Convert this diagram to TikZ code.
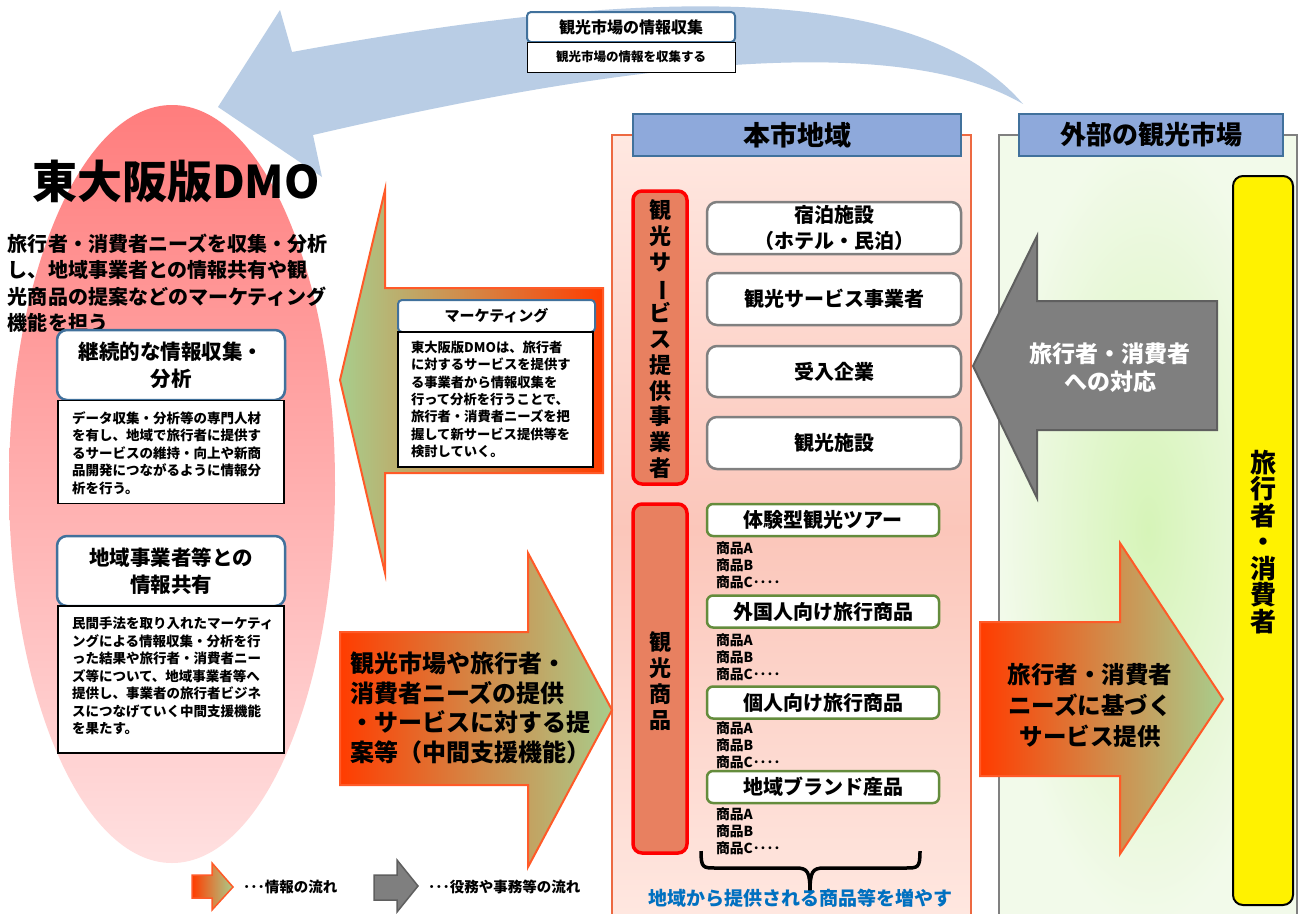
\documentclass[tikz,border=0pt]{standalone}
\usepackage{fontspec}
\setmainfont{Noto Sans CJK JP}
\usetikzlibrary{shapes.geometric}
\newcommand{\fsz}[2]{\fontsize{#1}{#2}\selectfont\bfseries}
\definecolor{arrowblue}{RGB}{185,205,229}
\definecolor{hdrblue}{RGB}{142,169,219}
\definecolor{bordblue}{RGB}{65,113,156}
\definecolor{redorange}{RGB}{255,60,0}
\definecolor{palegreen}{RGB}{168,205,140}
\definecolor{midtan}{RGB}{212,135,70}
\definecolor{arrowedge}{RGB}{255,90,40}
\definecolor{salmon}{RGB}{232,128,96}
\definecolor{regionedge}{RGB}{237,105,65}
\definecolor{pinktop}{RGB}{255,232,225}
\definecolor{pinkmid}{RGB}{251,198,186}
\definecolor{greenedge}{RGB}{100,140,60}
\definecolor{graybox}{RGB}{128,128,128}
\definecolor{grayarrow}{RGB}{127,127,127}
\definecolor{grayedge}{RGB}{95,95,95}
\definecolor{textblue}{RGB}{0,112,192}
\definecolor{ellipsetop}{RGB}{255,125,125}
\definecolor{ellipsebot}{RGB}{255,224,224}
\definecolor{greencenter}{RGB}{214,244,184}
\definecolor{greenouter}{RGB}{242,250,234}
\tikzset{
  plain/.style={inner sep=0pt, outer sep=0pt},
  hdrbox/.style={plain, draw=bordblue, line width=2pt, fill=hdrblue, font=\fsz{27}{30}},
  bluebox/.style={plain, draw=bordblue, line width=2.5pt, fill=white, rounded corners=10pt, align=center},
  descbox/.style={plain, draw=black, line width=1.3pt, fill=white},
  whitebox/.style={plain, draw=graybox, line width=2.5pt, fill=white, rounded corners=10pt, minimum width=254pt, align=center, font=\fsz{20}{26}},
  greenbox/.style={plain, draw=greenedge, line width=2.5pt, fill=white, rounded corners=6pt, minimum width=232pt, minimum height=32pt, font=\fsz{20}{24}},
  redbox/.style={plain, draw=red, line width=3.5pt, fill=salmon, rounded corners=9pt, minimum width=54pt},
  items/.style={plain, anchor=west, align=left, font=\fsz{13.8}{17}},
  infoarrow/.style={draw=arrowedge, line width=2pt, left color=redorange, right color=palegreen, middle color=midtan},
  backarrow/.style={draw=arrowedge, line width=2pt, left color=palegreen, right color=redorange, middle color=midtan},
  workarrow/.style={draw=grayedge, line width=2pt, fill=grayarrow},
}
\begin{document}
\begin{tikzpicture}[x=1pt,y=-1pt]
\useasboundingbox (0,0) rectangle (1300,913);
\fill[white] (0,0) rectangle (1300,913);

% ---------- left DMO ellipse ----------
\node[plain, ellipse, minimum width=326pt, minimum height=758pt, top color=ellipsetop, bottom color=ellipsebot] (dmo) at (172,484) {};

% ---------- big blue curved arrow ----------
\fill[arrowblue] (292,52) .. controls (550,5) and (900,-40) .. (1023,104)
  .. controls (880,20) and (550,80) .. (313,135) -- (322,177) -- (218,107) -- (280,10) -- cycle;
\node[plain, draw=bordblue, line width=2pt, fill=white, rounded corners=4pt, minimum width=208pt, minimum height=30pt, font=\fsz{16}{18}] (collect) at (631,27) {観光市場の情報収集};
\node[descbox, line width=1pt, minimum width=208pt, minimum height=30pt, font=\fsz{12.5}{14}] (collectdesc) at (631,57) {観光市場の情報を収集する};

% ---------- DMO texts ----------
\node[plain, anchor=west, font=\fsz{45}{48}] (title) at (32,181) {東大阪版DMO};
\node[plain, anchor=west, align=left, font=\fsz{20}{26.5}] (role) at (8,283)
  {旅行者・消費者ニーズを収集・分析\\し、地域事業者との情報共有や観\\光商品の提案などのマーケティング\\機能を担う};

\node[bluebox, minimum width=228pt, minimum height=70pt, font=\fsz{20.5}{27}] (analysis) at (171,365) {継続的な情報収集・\\分析};
\node[descbox, minimum width=226pt, minimum height=103pt] (analysisbox) at (171,452) {};
\node[plain, anchor=west, align=left, font=\fsz{13.5}{17.5}] (analysistxt) at (72,453)
  {データ収集・分析等の専門人材\\を有し、地域で旅行者に提供す\\るサービスの維持・向上や新商\\品開発につながるように情報分\\析を行う。};

\node[bluebox, minimum width=228pt, minimum height=70pt, font=\fsz{20.5}{27}] (sharing) at (171,571) {地域事業者等との\\情報共有};
\node[descbox, minimum width=226pt, minimum height=147pt] (sharingbox) at (171,679.5) {};
\node[plain, anchor=west, align=left, font=\fsz{13.5}{17.5}] (sharingtxt) at (72,676)
  {民間手法を取り入れたマーケティ\\ングによる情報収集・分析を行\\った結果や旅行者・消費者ニー\\ズ等について、地域事業者等へ\\提供し、事業者の旅行者ビジネ\\スにつなげていく中間支援機能\\を果たす。};

% ---------- central region ----------
\path[draw=regionedge, line width=2pt, top color=pinktop, bottom color=pinktop, middle color=pinkmid] (612,135) rectangle (971,925);
\node[hdrbox, minimum width=328pt, minimum height=42pt] (city) at (797,135) {本市地域};

\node[redbox, minimum height=293pt] (providers) at (660,337.5) {};
\node[plain, align=center, font=\fsz{22}{25.8}] (providerstxt) at (660,339)
  {観\\光\\サ\\\rotatebox[origin=c]{-90}{ー}\\ビ\\ス\\提\\供\\事\\業\\者};

\node[whitebox, minimum height=52pt] (lodging) at (834,228) {宿泊施設\\（ホテル・民泊）};
\node[whitebox, minimum height=52pt] (services) at (834,299) {観光サービス事業者};
\node[whitebox, minimum height=51pt] (hosts) at (834,371.5) {受入企業};
\node[whitebox, minimum height=52pt] (facilities) at (834,443) {観光施設};

\node[redbox, minimum height=349pt] (products) at (660,678.5) {};
\node[plain, align=center, font=\fsz{22}{26}] (productstxt) at (660,681) {観\\光\\商\\品};

\node[greenbox] (tour) at (823,520) {体験型観光ツアー};
\node[items] (tourlist) at (716,565) {商品A\\商品B\\商品C････};
\node[greenbox] (foreign) at (823,611.5) {外国人向け旅行商品};
\node[items] (foreignlist) at (716,657) {商品A\\商品B\\商品C････};
\node[greenbox] (personal) at (823,702.5) {個人向け旅行商品};
\node[items] (personallist) at (716,745) {商品A\\商品B\\商品C････};
\node[greenbox] (brand) at (823,787) {地域ブランド産品};
\node[items] (brandlist) at (716,831) {商品A\\商品B\\商品C････};

\draw[line width=3.5pt] (701,851) .. controls (701,868) and (703,868) .. (716,868) -- (796,868)
  .. controls (808,868) and (810,872) .. (810,893);
\draw[line width=3.5pt] (920,851) .. controls (920,868) and (918,868) .. (905,868) -- (824,868)
  .. controls (812,868) and (810,872) .. (810,893);
\node[plain, text=textblue, font=\fsz{19}{22}] (increase) at (800,898) {地域から提供される商品等を増やす};

% ---------- right region ----------
\path[draw=graybox, line width=2.5pt, inner color=greencenter, outer color=greenouter] (999,135) rectangle (1297,925);
\node[hdrbox, minimum width=264pt, minimum height=42pt, font=\fsz{26}{30}] (market) at (1151,135) {外部の観光市場};

\node[plain, draw=black, line width=2pt, fill=yellow, rounded corners=10pt, minimum width=60pt, minimum height=729pt] (consumers) at (1263,540.5) {};
\node[plain, align=center, font=\fsz{26}{26.5}] (consumerstxt) at (1263,542) {旅\\行\\者\\・\\消\\費\\者};

\path[workarrow] (1217,301) -- (1037,301) -- (1037,236) -- (973,366) -- (1037,498) -- (1037,430) -- (1217,430) -- cycle;
\node[plain, align=center, text=white, font=\fsz{23}{28}] (response) at (1110,368) {旅行者・消費者\\への対応};

\path[infoarrow] (980,622) -- (1120,622) -- (1120,543) -- (1223,699) -- (1120,854) -- (1120,776) -- (980,776) -- cycle;
\node[plain, align=center, font=\fsz{23.5}{31}] (service) at (1090,706) {旅行者・消費者\\ニーズに基づく\\サービス提供};

% ---------- middle arrows ----------
\path[backarrow] (603,288) -- (385,288) -- (385,190) -- (340,380) -- (385,573) -- (385,473) -- (603,473) -- cycle;
\node[plain, draw=bordblue, line width=2pt, fill=white, rounded corners=4pt, minimum width=197pt, minimum height=32pt, font=\fsz{15}{17}] (marketing) at (496.5,316) {マーケティング};
\node[descbox, minimum width=195pt, minimum height=135pt] (marketingbox) at (495.5,399.5) {};
\node[plain, anchor=west, align=left, font=\fsz{13.3}{17.4}] (marketingtxt) at (411,399.5)
  {東大阪版DMOは、旅行者\\に対するサービスを提供す\\る事業者から情報収集を\\行って分析を行うことで、\\旅行者・消費者ニーズを把\\握して新サービス提供等を\\検討していく。};

\path[infoarrow] (340,632) -- (528,632) -- (528,553) -- (612,710) -- (528,867) -- (528,785) -- (340,785) -- cycle;
\node[plain, anchor=west, align=left, font=\fsz{24}{29.5}] (support) at (350,708)
  {観光市場や旅行者・\\消費者ニーズの提供\\・サービスに対する提\\案等（中間支援機能）};

% ---------- legend ----------
\path[infoarrow, line width=1.5pt] (192,875) -- (212,875) -- (212,863) -- (233,887) -- (212,910) -- (212,898) -- (192,898) -- cycle;
\node[plain, anchor=west, font=\fsz{14.5}{16}] (legendinfo) at (243,887) {･･･情報の流れ};
\path[workarrow, line width=1.5pt] (374,875) -- (397,875) -- (397,860) -- (418,886) -- (397,912) -- (397,900) -- (374,900) -- cycle;
\node[plain, anchor=west, font=\fsz{14.5}{16}] (legendwork) at (428,887) {･･･役務や事務等の流れ};
\end{tikzpicture}
\end{document}
